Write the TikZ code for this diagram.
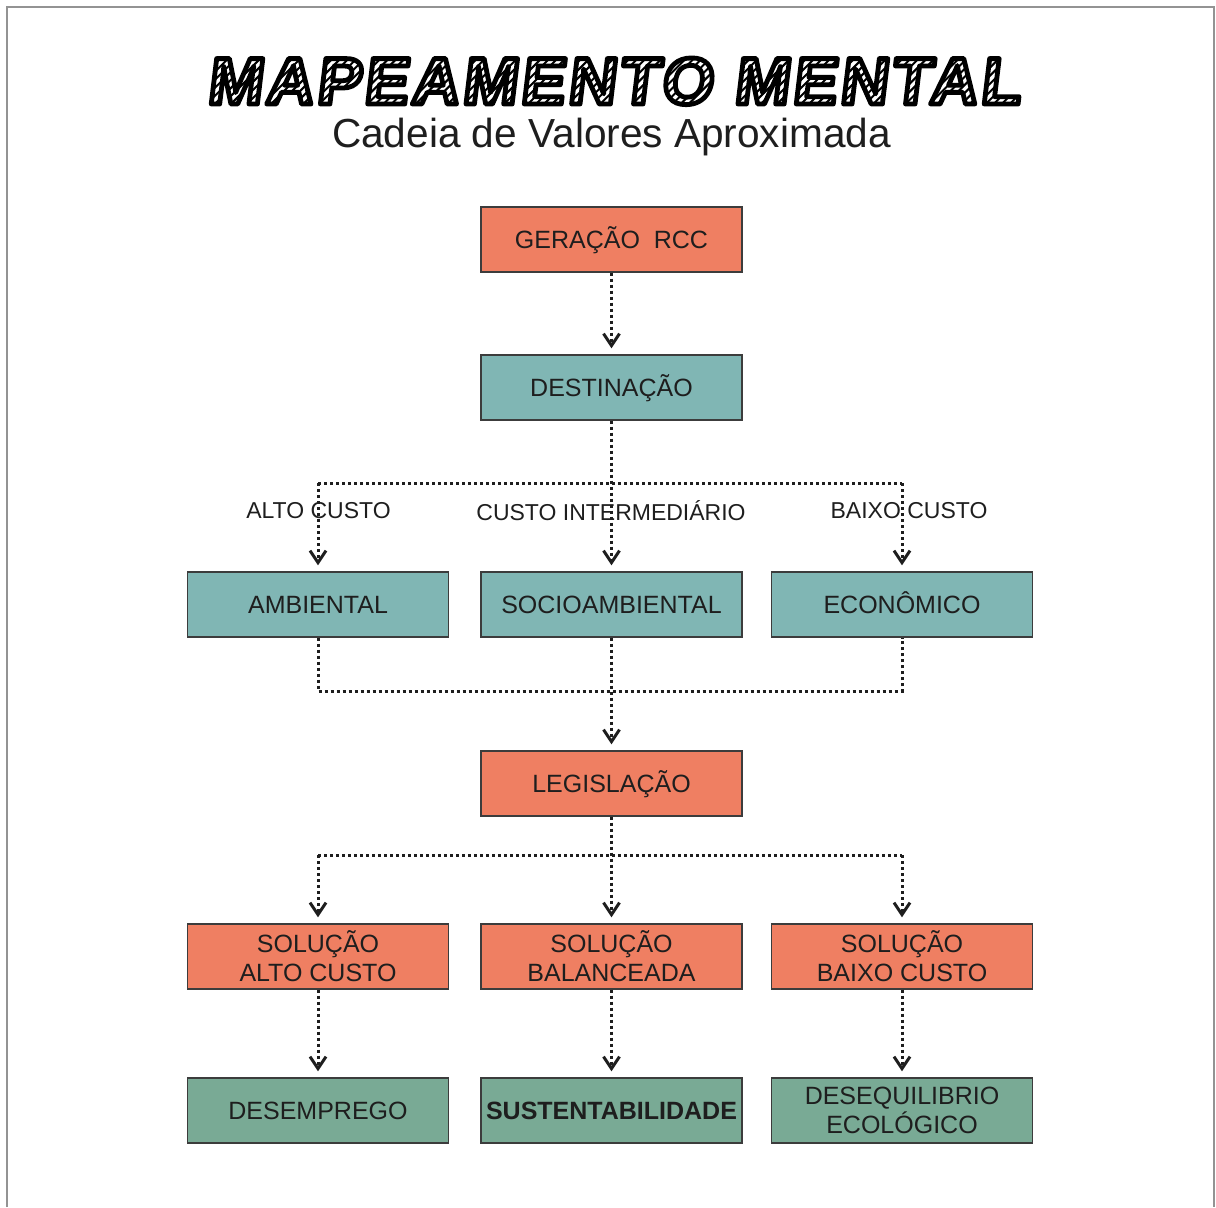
\documentclass[tikz,border=0pt]{standalone}
\usepackage{fontspec}
\setmainfont{Liberation Sans}
\newfontfamily\titlefont{Liberation Sans}[FakeSlant=0.12, LetterSpace=5]
\usetikzlibrary{arrows.meta}

\definecolor{salmon}{RGB}{239,127,98}
\definecolor{tealbox}{RGB}{128,182,180}
\definecolor{greenbox}{RGB}{121,170,149}
\definecolor{edge}{RGB}{60,60,60}
\definecolor{ink}{RGB}{30,30,30}

% diagonal hatch used inside the outlined title letters
\newcount\hatchx
\def\hatchlines{}
\hatchx=-40
\loop
  \edef\hatchlines{\hatchlines\space\the\hatchx\space -4 m \the\numexpr\hatchx+32\relax\space 28 l}%
  \advance\hatchx by 4
\ifnum\hatchx<440 \repeat

% outlined letters filled with hatching (stroke pass, clip pass, hatch)
\newcommand\hatchtitle[1]{%
  \setbox0=\hbox{#1}%
  \special{pdf:literal q 0 G 2.4 w 1 j 1 J 1 Tr}\copy0\kern-\wd0
  \special{pdf:literal 7 Tr}\copy0\kern-\wd0
  \special{pdf:literal 0 Tr 0 G 1 w \hatchlines\space S Q}%
  \kern\wd0\relax}

\tikzset{
  box/.style={draw=edge, line width=0.7pt, minimum width=130.5pt,
    minimum height=32.5pt, inner sep=0pt, text=ink,
    font=\fontsize{12.5}{14.5}\selectfont},
  one/.style={text height=8.95pt, text depth=0pt},
  two/.style={align=center},
  hot/.style={box, fill=salmon},
  cool/.style={box, fill=tealbox},
  goal/.style={box, fill=greenbox},
  dotline/.style={line width=1.5pt, dash pattern=on 1.5pt off 1.5pt, draw=ink},
  conn/.style={dotline, -{Straight Barb[length=6pt,width=8pt]}, shorten >=3pt},
  cost/.style={font=\fontsize{11.5}{13}\selectfont, text=ink, inner sep=0pt, anchor=base},
  frame/.style={draw=gray!85, line width=1pt},
}

\begin{document}
\begin{tikzpicture}[x=0.5pt,y=-0.5pt]
  \useasboundingbox (0,0) rectangle (1216,1207);
  \fill[white] (0,0) rectangle (1216,1207);

  % page frame, open at the bottom
  \draw[frame] (7,1207) -- (7,7) -- (1214,7) -- (1214,1207);

  % subtitle
  \node[anchor=base, inner sep=0pt, text=ink, font=\fontsize{20.3}{24}\selectfont]
    (sub) at (611.5,147) {Cadeia de Valores Aproximada};

  % chain of boxes
  \node[hot, one]  (gen)   at (611.5,239.5) {GERAÇÃO\ \ RCC};
  \node[cool, one] (dest)  at (611.5,387.5) {DESTINAÇÃO};

  \node[cool, one] (amb)   at (318,604.5)   {AMBIENTAL};
  \node[cool, one] (soc)   at (611.5,604.5) {SOCIOAMBIENTAL};
  \node[cool, one] (eco)   at (902,604.5)   {ECONÔMICO};

  \node[hot, one]  (legis) at (611.5,783.5) {LEGISLAÇÃO};

  \node[hot, two]  (solA)  at (318,956.5)   {SOLUÇÃO\\ALTO CUSTO};
  \node[hot, two]  (solB)  at (611.5,956.5) {SOLUÇÃO\\BALANCEADA};
  \node[hot, two]  (solC)  at (902,956.5)   {SOLUÇÃO\\BAIXO CUSTO};

  \node[goal, one] (resA)  at (318,1110.5)  {DESEMPREGO};
  \node[goal, one, font=\fontsize{12.5}{14.5}\selectfont\bfseries]
                   (resB)  at (611.5,1110.5) {SUSTENTABILIDADE};
  \node[goal, two] (resC)  at (902,1110.5)  {DESEQUILIBRIO\\ECOLÓGICO};

  % cost labels
  \node[cost] (lblA) at (318.5,518) {ALTO CUSTO};
  \node[cost] (lblB) at (611,520)   {CUSTO INTERMEDIÁRIO};
  \node[cost] (lblC) at (909,518)   {BAIXO CUSTO};

  % junction points of the branching lines
  \coordinate (d1) at (318,483);
  \coordinate (d3) at (902,483);
  \coordinate (m1) at (318,691);
  \coordinate (m3) at (902,691);
  \coordinate (l1) at (318,855);
  \coordinate (l3) at (902,855);

  % connectors
  \draw[conn] (gen) -- (dest);

  \draw[dotline] (d1) -- (d3);
  \draw[conn] (dest) -- (soc);
  \draw[conn] (d1) -- (amb);
  \draw[conn] (d3) -- (eco);

  \draw[dotline] (amb) -- (m1) -- (m3) -- (eco);
  \draw[conn] (soc) -- (legis);

  \draw[dotline] (l1) -- (l3);
  \draw[conn] (legis) -- (solB);
  \draw[conn] (l1) -- (solA);
  \draw[conn] (l3) -- (solC);

  \draw[conn] (solA) -- (resA);
  \draw[conn] (solB) -- (resB);
  \draw[conn] (solC) -- (resC);

  % hatched headline
  \node[anchor=base, inner sep=0pt] (head) at (613.5,104)
    {\titlefont\bfseries\fontsize{33}{36}\selectfont\hatchtitle{MAPEAMENTO MENTAL}};
\end{tikzpicture}
\end{document}
